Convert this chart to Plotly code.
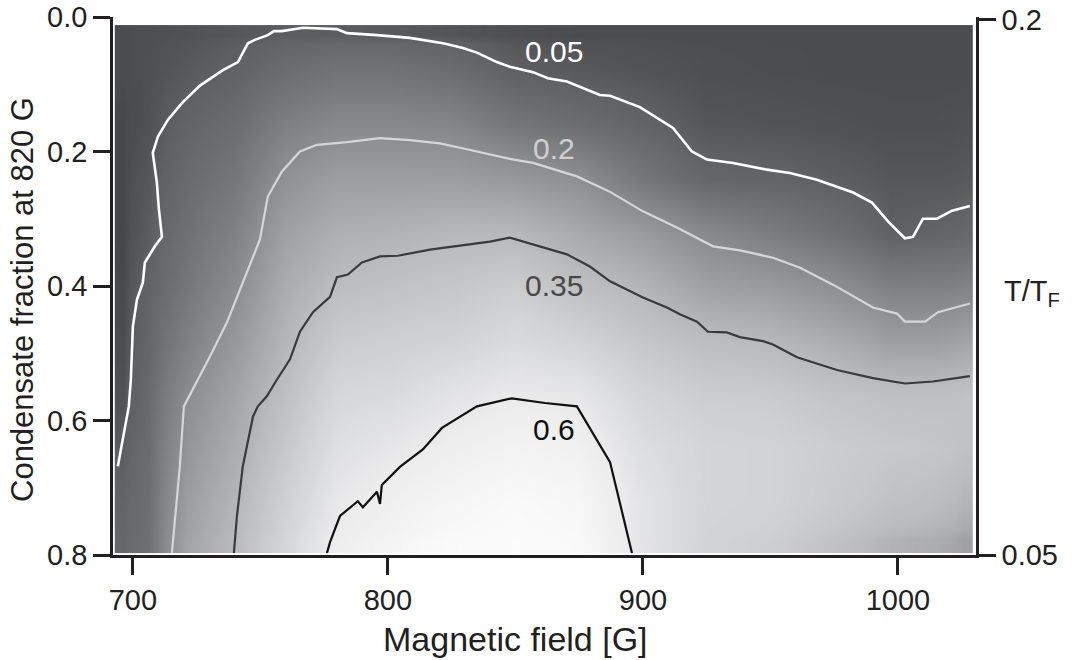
import plotly.graph_objects as go

# ---------------- data ----------------
# background field (condensate fraction), columns = magnetic field [G], rows = left-axis coordinate
field_G = [693, 705, 720, 740, 760, 780, 800, 825, 850, 875, 900, 925, 950, 975, 1000, 1015, 1030]
frac_rows = [0.0, 0.08, 0.16, 0.24, 0.32, 0.40, 0.48, 0.56, 0.64, 0.72, 0.80]
z_rows = [
    [0.01, 0.015, 0.02, 0.03, 0.04, 0.04, 0.035, 0.025, 0.015, 0.01, 0.01, 0.01, 0.01, 0.01, 0.01, 0.01, 0.01],
    [0.01, 0.015, 0.035, 0.055, 0.09, 0.11, 0.11, 0.09, 0.048, 0.035, 0.025, 0.015, 0.012, 0.01, 0.01, 0.01, 0.01],
    [0.0, 0.02, 0.06, 0.09, 0.15, 0.18, 0.18, 0.17, 0.12, 0.09, 0.06, 0.03, 0.025, 0.02, 0.015, 0.015, 0.02],
    [0.0, 0.03, 0.08, 0.12, 0.21, 0.25, 0.25, 0.25, 0.23, 0.2, 0.12, 0.065, 0.06, 0.045, 0.03, 0.03, 0.035],
    [0.0, 0.04, 0.1, 0.155, 0.26, 0.31, 0.32, 0.34, 0.34, 0.29, 0.24, 0.18, 0.14, 0.1, 0.05, 0.06, 0.07],
    [0.005, 0.055, 0.12, 0.19, 0.3, 0.36, 0.38, 0.4, 0.43, 0.37, 0.33, 0.26, 0.24, 0.2, 0.15, 0.15, 0.16],
    [0.01, 0.065, 0.15, 0.23, 0.335, 0.42, 0.44, 0.46, 0.5, 0.46, 0.4, 0.36, 0.34, 0.3, 0.25, 0.25, 0.27],
    [0.02, 0.075, 0.19, 0.27, 0.37, 0.48, 0.5, 0.55, 0.59, 0.57, 0.47, 0.43, 0.42, 0.39, 0.37, 0.37, 0.38],
    [0.04, 0.085, 0.22, 0.3, 0.41, 0.53, 0.57, 0.62, 0.66, 0.64, 0.52, 0.47, 0.46, 0.43, 0.41, 0.4, 0.38],
    [0.06, 0.09, 0.25, 0.33, 0.45, 0.58, 0.63, 0.68, 0.71, 0.69, 0.55, 0.47, 0.46, 0.42, 0.38, 0.36, 0.33],
    [0.07, 0.095, 0.27, 0.35, 0.48, 0.62, 0.67, 0.72, 0.73, 0.71, 0.56, 0.46, 0.44, 0.38, 0.32, 0.3, 0.26],
]

# contour lines
c005_B = [694.1, 696.9, 698.4, 699.2, 699.6, 700.0, 701.6, 703.9, 704.7, 708.6, 711.4, 710.2, 709.4, 707.8,
          709.8, 713.7, 719.2, 726.3, 735.3, 741.2, 745.1, 747.8, 752.9, 755.3, 758.4, 766.7, 780.0, 783.9,
          795.7, 808.6, 821.6, 829.4, 834.9, 842.7, 847.8, 856.9, 862.7, 870.2, 883.1, 887.1, 898.8, 911.8,
          919.2, 925.1, 935.3, 948.6, 957.6, 968.2, 982.4, 989.8, 996.1, 1002.7, 1005.9, 1009.8, 1015.3,
          1021.2, 1028.2]
c005_f = [0.668, 0.613, 0.579, 0.539, 0.494, 0.460, 0.420, 0.395, 0.365, 0.341, 0.327, 0.286, 0.246, 0.202,
          0.178, 0.153, 0.128, 0.102, 0.079, 0.067, 0.039, 0.034, 0.027, 0.021, 0.021, 0.016, 0.018, 0.024,
          0.027, 0.031, 0.039, 0.046, 0.053, 0.067, 0.074, 0.082, 0.091, 0.096, 0.116, 0.117, 0.134, 0.165,
          0.200, 0.212, 0.217, 0.227, 0.232, 0.242, 0.261, 0.276, 0.304, 0.329, 0.327, 0.300, 0.300,
          0.288, 0.281]

c02_B = [715.3, 716.5, 718.4, 720.0, 725.1, 730.2, 736.9, 743.1, 749.8, 752.9, 758.4, 765.5, 772.2, 783.9,
         796.9, 808.6, 820.4, 834.9, 847.8, 856.9, 874.1, 887.1, 900.0, 913.3, 927.5, 938.0, 951.0, 961.6,
         974.5, 990.2, 999.6, 1002.7, 1010.6, 1015.7, 1028.2]
c02_f = [0.797, 0.742, 0.668, 0.579, 0.543, 0.505, 0.454, 0.395, 0.331, 0.267, 0.230, 0.200, 0.190, 0.186,
         0.180, 0.183, 0.188, 0.200, 0.211, 0.217, 0.237, 0.260, 0.289, 0.313, 0.341, 0.347, 0.358, 0.373,
         0.398, 0.432, 0.441, 0.453, 0.453, 0.439, 0.426]

c035_B = [739.6, 740.8, 743.1, 747.1, 749.0, 752.5, 756.5, 761.6, 765.5, 770.6, 777.3, 780.0, 784.3, 789.8,
          796.9, 803.9, 816.5, 828.2, 840.0, 847.8, 856.9, 870.2, 879.2, 887.1, 900.0, 909.4, 914.5, 921.2,
          925.5, 932.9, 938.0, 947.1, 951.0, 960.4, 976.1, 990.2, 1002.7, 1013.7, 1028.2]
c035_f = [0.797, 0.742, 0.668, 0.594, 0.579, 0.564, 0.539, 0.509, 0.468, 0.439, 0.416, 0.387, 0.383, 0.365,
          0.356, 0.355, 0.346, 0.340, 0.334, 0.328, 0.338, 0.353, 0.371, 0.393, 0.417, 0.432, 0.442, 0.453,
          0.468, 0.469, 0.476, 0.482, 0.487, 0.506, 0.525, 0.537, 0.545, 0.542, 0.534]

c06_B = [776.1, 777.3, 781.2, 788.2, 790.2, 795.7, 796.9, 797.6, 804.7, 813.7, 821.2, 834.9, 848.6, 861.6,
         874.1, 887.1, 895.7]
c06_f = [0.797, 0.781, 0.742, 0.720, 0.729, 0.706, 0.724, 0.696, 0.669, 0.643, 0.611, 0.579, 0.567, 0.574,
         0.579, 0.662, 0.797]

levels = ["0.05", "0.2", "0.35", "0.6"]
label_B = [865.1, 865.1, 865.1, 865.1]
label_f = [0.051, 0.196, 0.399, 0.613]

x_ticks = [700, 800, 900, 1000]
y_ticks = [0.0, 0.2, 0.4, 0.6, 0.8]
y_ticktext = ["0.0", "0.2", "0.4", "0.6", "0.8"]
t_ticks = [0.05, 0.2]
t_ticktext = ["0.05", "0.2"]

x_title = "Magnetic field [G]"
y_title = "Condensate fraction at 820 G"
y2_title = "T/T<sub>F</sub>"

# ---------------- styling ----------------
INK = "#231f20"
FONT = "Arial, Liberation Sans, Helvetica, sans-serif"
FS_TICK = 29
FS_XTITLE = 34
FS_YTITLE = 31
FS_LABEL = 30
line_colors = ["#ffffff", "#d6d6d6", "#3a3a3c", "#111111"]
text_colors = ["#ffffff", "#d0d0d0", "#48484a", "#111111"]
line_widths = [2.6, 2.2, 2.2, 2.2]

ML, MR, MT, MB = 113, 96, 17, 105
W, H = 1072, 660
pw = W - ML - MR
ph = H - MT - MB


def px_x(p):
    return (p - ML) / pw


def px_y(p):
    return (H - MB - p) / ph


def edges(c, lo, hi):
    mids = [(a + b) / 2 for a, b in zip(c[:-1], c[1:])]
    return [lo] + mids + [hi]


fig = go.Figure()
fig.add_trace(go.Heatmap(
    x=edges(field_G, 692.9, 1029.4), y=edges(frac_rows, 0.012, 0.797), z=z_rows,
    zsmooth="best", zmin=0, zmax=0.75, showscale=False, hoverinfo="skip",
    colorscale=[[0, "rgb(70,71,73)"], [0.0667, "rgb(96,97,99)"], [0.2667, "rgb(142,143,145)"],
                [0.4667, "rgb(186,187,189)"], [0.6, "rgb(208,209,211)"], [0.8, "rgb(236,236,237)"],
                [1, "rgb(254,254,254)"]],
))

for (xs, ys), col, w in zip([(c005_B, c005_f), (c02_B, c02_f), (c035_B, c035_f), (c06_B, c06_f)],
                            line_colors, line_widths):
    fig.add_trace(go.Scatter(x=xs, y=ys, mode="lines", line=dict(color=col, width=w),
                             hoverinfo="skip", showlegend=False))

# invisible trace to anchor right axis (T/T_F)
fig.add_trace(go.Scatter(x=[700, 700], y=t_ticks, yaxis="y2", mode="markers",
                         marker=dict(opacity=0), hoverinfo="skip", showlegend=False))

for txt, bx, fy, tc in zip(levels, label_B, label_f, text_colors):
    fig.add_annotation(x=bx, y=fy, xref="x", yref="y", text=txt, showarrow=False,
                       font=dict(family=FONT, size=FS_LABEL, color=tc))

fig.add_annotation(x=px_x(1002), y=px_y(293), xref="paper", yref="paper", text=y2_title, showarrow=False,
                   font=dict(family=FONT, size=FS_TICK, color=INK), xanchor="left", yanchor="middle")
fig.add_annotation(x=px_x(515), y=px_y(639), xref="paper", yref="paper", text=x_title, showarrow=False,
                   font=dict(family=FONT, size=FS_XTITLE, color=INK), xanchor="center", yanchor="middle")
fig.add_annotation(x=px_x(22), y=px_y(300), xref="paper", yref="paper", text=y_title, showarrow=False,
                   textangle=-90, font=dict(family=FONT, size=FS_YTITLE, color=INK),
                   xanchor="center", yanchor="middle")

axis_common = dict(showline=True, linewidth=2.5, linecolor=INK, ticks="outside", ticklen=17,
                   tickwidth=2.5, tickcolor=INK, showgrid=False, zeroline=False, automargin=False,
                   tickfont=dict(family=FONT, size=FS_TICK, color=INK))

fig.update_layout(
    width=W, height=H,
    margin=dict(l=ML, r=MR, t=MT, b=MB, autoexpand=False),
    paper_bgcolor="white", plot_bgcolor="white",
    showlegend=False,
    xaxis=dict(range=[692.2, 1030.6], tickvals=x_ticks, ticktext=[str(v) for v in x_ticks], **axis_common),
    yaxis=dict(range=[0.8, 0.0], tickvals=y_ticks, ticktext=y_ticktext, **axis_common),
    yaxis2=dict(overlaying="y", side="right", range=[0.05, 0.2008], tickvals=t_ticks, ticktext=t_ticktext,
                **axis_common),
)

fig.write_html("out.html", config={"displayModeBar": False},
               post_script="document.body.style.margin='0';")
